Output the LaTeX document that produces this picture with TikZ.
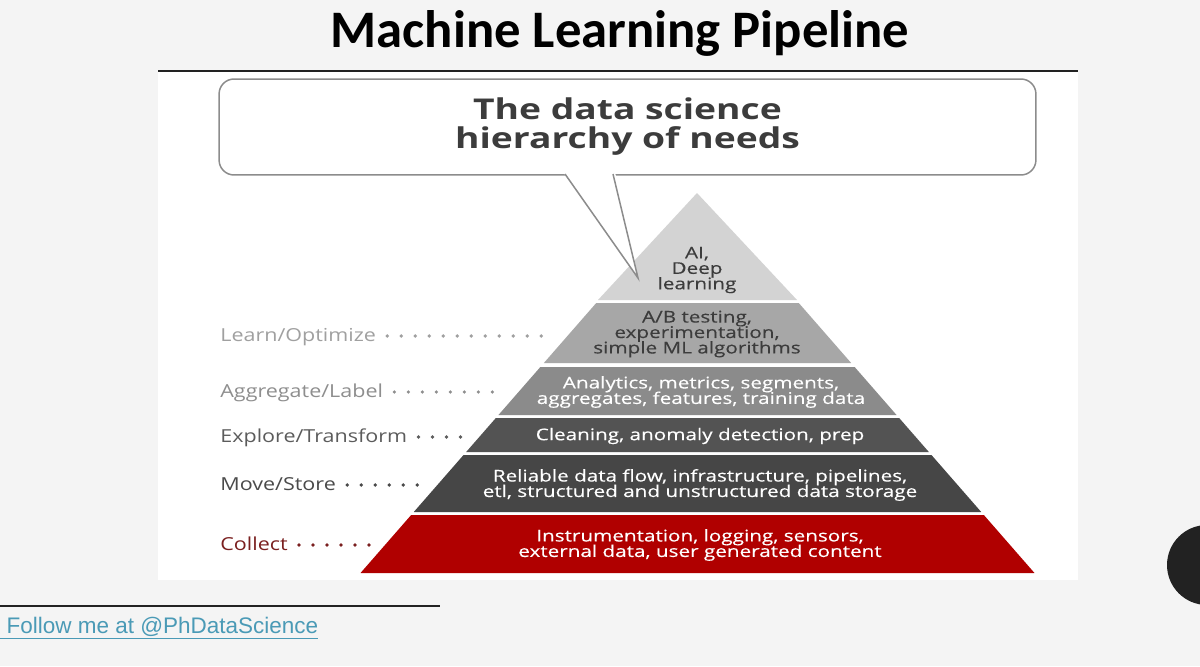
\documentclass[tikz,border=0pt]{standalone}
\usepackage{fontspec}
\setmainfont{Open Sans}
\newfontfamily\titlefont{Carlito}
\newfontfamily\linkfont{Liberation Sans}
\newfontfamily\tierfont[FakeStretch=1.28, FakeBold=0.3]{Open Sans}
\newfontfamily\sidefont[FakeStretch=1.2]{Open Sans}
\newfontfamily\headfont[FakeStretch=1.3]{Open Sans}
\newcommand{\tightlines}{\setlength{\lineskiplimit}{-10pt}}
\usetikzlibrary{positioning}

\definecolor{pagebg}{HTML}{F4F4F4}
\definecolor{inkdark}{HTML}{222222}
\definecolor{bubbleline}{HTML}{8C8C8C}
\definecolor{headgray}{HTML}{3C3C3C}
\definecolor{tierA}{HTML}{D3D3D3}
\definecolor{tierB}{HTML}{A7A7A7}
\definecolor{tierC}{HTML}{8B8B8B}
\definecolor{tierD}{HTML}{535353}
\definecolor{tierE}{HTML}{464646}
\definecolor{tierF}{HTML}{B00000}
\definecolor{lblA}{HTML}{A0A0A0}
\definecolor{lblB}{HTML}{8E8E8E}
\definecolor{lblC}{HTML}{5C5C5C}
\definecolor{lblD}{HTML}{4A4A4A}
\definecolor{lblE}{HTML}{7A1F1F}
\definecolor{linkblue}{HTML}{4A9AB6}

\begin{document}
\begin{tikzpicture}[
    x=0.02cm, y=-0.02cm,
    tiertext/.style={align=center, inner sep=0pt, text=white,
      font=\tierfont\fontsize{9.2}{8.8}\selectfont\tightlines},
    sidelabel/.style={anchor=west, inner sep=0pt, text height=5.7pt, text depth=0pt, font=\sidefont\fontsize{10.2}{11}\selectfont},
    leader/.style={line width=2.1pt, line cap=round, dash pattern=on 0pt off 0.28cm, shorten <=0.22cm},
    bubble/.style={draw=bubbleline, line width=0.03cm, rounded corners=0.3cm, fill=white, align=center,
      text=headgray, font=\headfont\bfseries\fontsize{16.3}{16.5}\selectfont\tightlines}
  ]

  % page, panel and heading
  \useasboundingbox (0,0) rectangle (1200,666);
  \fill[pagebg] (0,0) rectangle (1200,666);
  \fill[white] (158,72) rectangle (1078,580);
  \node[font=\titlefont\bfseries\fontsize{30}{32}\selectfont, anchor=base] (title) at (620,48) {Machine Learning Pipeline};
  \draw[inkdark, line width=0.04cm] (158,71) -- (1078,71);

  % speech bubble
  \node[bubble, minimum width=16.34cm, minimum height=1.92cm] (needs) at (627.5,127) {The data science\\hierarchy of needs};
  \coordinate (tl) at (565,174);
  \coordinate (tr) at (613,174);
  \coordinate (tip) at (638,278);

  % pyramid tiers
  \fill[tierA] (697,193) -- (797,300) -- (598,300) -- cycle;
  \foreach \t/\b/\c in {303/363/tierB, 367/415/tierC, 418/452/tierD, 455/512/tierE, 515/573/tierF}
    \fill[\c] ({697.5-(\t-187)*0.873},\t) -- ({697.5+(\t-187)*0.873},\t)
      -- ({697.5+(\b-187)*0.873},\b) -- ({697.5-(\b-187)*0.873},\b) -- cycle;

  \fill[white] (563,172) -- (tip) -- (615,172) -- cycle;
  \draw[bubbleline, line width=0.03cm] (tl) -- (tip) -- (tr);

  \node[tiertext, text=headgray] (ai) at (697,270) {AI,\\Deep\\learning};
  \node[tiertext, text=headgray] (ab) at (697,334) {A/B testing,\\experimentation,\\simple ML algorithms};
  \node[tiertext] (an) at (701,392) {Analytics, metrics, segments,\\aggregates, features, training data};
  \node[tiertext] (cl) at (700,436) {Cleaning, anomaly detection, prep};
  \node[tiertext] (rd) at (700,485) {Reliable data flow, infrastructure, pipelines,\\etl, structured and unstructured data storage};
  \node[tiertext] (in) at (700,545) {Instrumentation, logging, sensors,\\external data, user generated content};

  % side labels
  \node[sidelabel, text=lblA] (lo) at (220,336) {Learn/Optimize};
  \node[sidelabel, text=lblB] (la) at (220,392) {Aggregate/Label};
  \node[sidelabel, text=lblC] (le) at (220,437) {Explore/Transform};
  \node[sidelabel, text=lblD] (lm) at (220,485) {Move/Store};
  \node[sidelabel, text=lblE] (lc) at (220,545) {Collect};
  \coordinate (loE) at (551,336);
  \coordinate (laE) at (506,392);
  \coordinate (leE) at (473,437);
  \coordinate (lmE) at (431,485);
  \coordinate (lcE) at (376,545);
  \draw[leader, lblA] (lo.east) -- (loE);
  \draw[leader, lblB] (la.east) -- (laE);
  \draw[leader, lblC] (le.east) -- (leE);
  \draw[leader, lblD] (lm.east) -- (lmE);
  \draw[leader, lblE] (lc.east) -- (lcE);

  % footer
  \draw[inkdark, line width=0.05cm] (0,606) -- (440,606);
  \node[anchor=base west, inner sep=0pt, text=linkblue, font=\linkfont\fontsize{12.8}{15}\selectfont] (follow) at (0,633) {\underline{\ Follow me at @PhDataScience}};
  \fill[inkdark] (1207,565) circle[radius=0.8cm];

\end{tikzpicture}
\end{document}
